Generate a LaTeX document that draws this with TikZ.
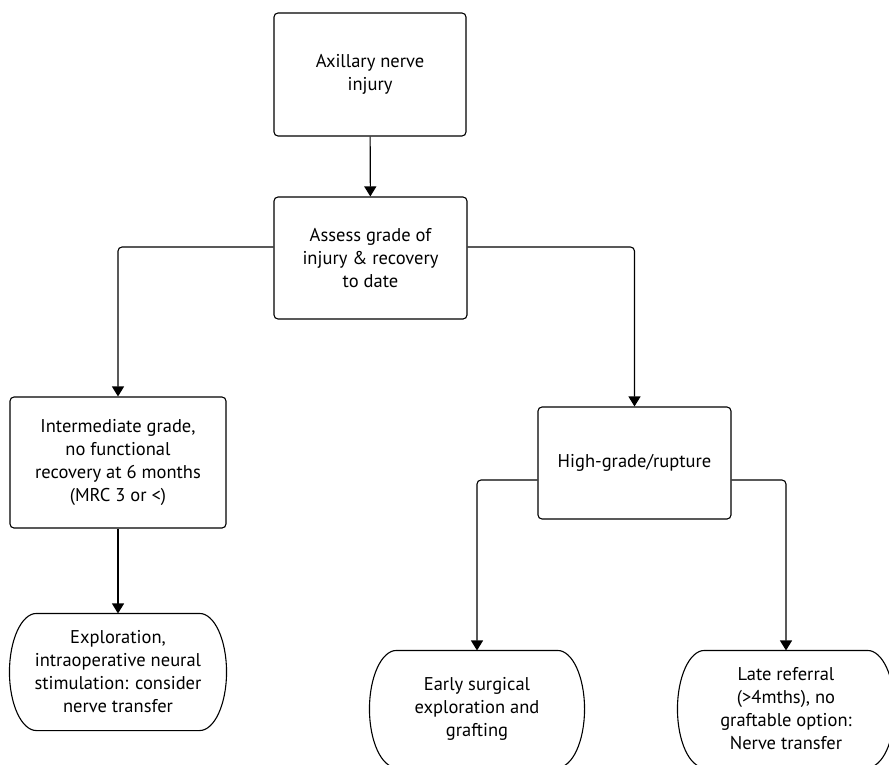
\documentclass[tikz,border=0pt]{standalone}
\usepackage{fontspec}
\setmainfont{PT Sans}
\usetikzlibrary{arrows.meta}

\tikzset{
  box/.style={draw, rounded corners=4pt, align=center, inner sep=0pt},
  endbox/.style={align=center, inner sep=0pt, minimum width=214pt, minimum height=116pt},
}
% capsule outline round a named node
\newcommand{\capsule}[1]{%
  \draw ([xshift=27pt]#1.north west) -- ([xshift=-27pt]#1.north east)
    .. controls ([xshift=-12pt]#1.north east) and ([yshift=32pt]#1.east) .. (#1.east)
    .. controls ([yshift=-32pt]#1.east) and ([xshift=-12pt]#1.south east) .. ([xshift=-27pt]#1.south east)
    -- ([xshift=27pt]#1.south west)
    .. controls ([xshift=12pt]#1.south west) and ([yshift=-32pt]#1.west) .. (#1.west)
    .. controls ([yshift=32pt]#1.west) and ([xshift=12pt]#1.north west) .. cycle;}

\begin{document}
\begin{tikzpicture}[>={Triangle[width=12pt,length=10pt]}, x=1pt, y=-1pt,
    line width=1.1pt, font=\fontsize{18.5}{23}\selectfont]
    \useasboundingbox (0,0) rectangle (889,764);
    \node[box, minimum width=192pt, minimum height=123pt] (injury) at (370,74.5) {Axillary nerve\\injury};
    \node[box, minimum width=193pt, minimum height=122pt] (assess) at (370.5,258) {Assess grade of\\injury \& recovery\\to date};
    \node[box, minimum width=216pt, minimum height=131pt] (inter) at (118,462.5) {Intermediate grade,\\no functional\\recovery at 6 months\\(MRC 3 or <)};
    \node[box, minimum width=193pt, minimum height=112pt] (high) at (634.5,463) {High-grade/rupture};
    \node[endbox, minimum width=216pt] (explore) at (118,672) {Exploration,\\intraoperative neural\\stimulation: consider\\nerve transfer};
    \node[endbox] (early) at (477,709) {Early surgical\\exploration and\\grafting};
    \node[endbox, minimum width=216pt] (late) at (786,709) {Late referral\\(>4mths), no\\graftable option:\\Nerve transfer};
    \capsule{explore}
    \capsule{early}
    \capsule{late}
    \draw [->] (injury) -- (assess);
    \draw [->, rounded corners=4pt] ([yshift=11pt]assess.west) -| (inter.north);
    \draw [->, rounded corners=4pt] ([yshift=11pt]assess.east) -| (high.north);
    \draw [->] (inter) -- (explore.north);
    \draw [->, rounded corners=4pt] ([yshift=-17pt]high.west) -| (early.north);
    \draw [->, rounded corners=4pt] ([yshift=-17pt]high.east) -| (late.north);
\end{tikzpicture}
\end{document}
